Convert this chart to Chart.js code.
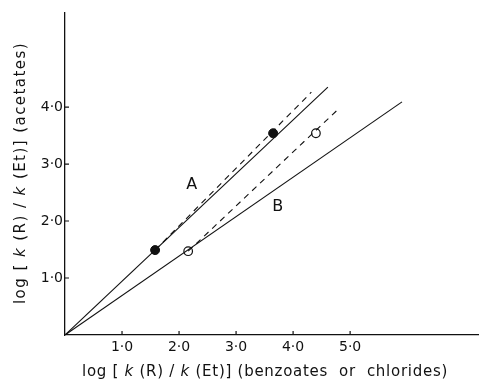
<!DOCTYPE html>
<html>
<head>
<meta charset="utf-8">
<script src="https://cdn.jsdelivr.net/npm/chart.js@4.4.1/dist/chart.umd.min.js"></script>
<style>
  body { margin: 0; background: #fff; }
  canvas { display: block; }
</style>
</head>
<body>
<canvas id="myChart" width="479" height="383"></canvas>
<script>
// values
const xTicks = [1, 2, 3, 4, 5]
const yTicks = [1, 2, 3, 4]
const lineA = [{x: 0, y: 0}, {x: 4.61, y: 4.35}]
const lineB = [{x: 0, y: 0}, {x: 5.91, y: 4.09}]
const dashA = [{x: 1.58, y: 1.49}, {x: 4.32, y: 4.26}]
const dashB = [{x: 2.16, y: 1.47}, {x: 4.79, y: 3.96}]
const filledPts = [{x: 1.58, y: 1.49}, {x: 3.65, y: 3.54}]
const openPts = [{x: 2.16, y: 1.47}, {x: 4.40, y: 3.54}]
const curveLabels = [{text: 'A', x: 2.23, y: 2.63}, {text: 'B', x: 3.74, y: 2.25}]

const FONT = '"DejaVu Sans", "Liberation Sans", sans-serif'

const fmt = v => v.toFixed(1).replace('.', '\u00b7')

// title pieces: [text, italic?]
const xTitle = [['log [ ', false], ['k', true], [' (R) / ', false], ['k', true], [' (Et)] (benzoates  or  chlorides)', false]]
const yTitle = [['log [ ', false], ['k', true], [' (R) / ', false], ['k', true], [' (Et)] (acetates)', false]]

// draw the pieces centred on 0,0, spread to the wanted width
function drawPieces(ctx, pieces, size, target) {
  let total = 0, chars = 0
  pieces.forEach(p => {
    ctx.font = (p[1] ? 'italic ' : '') + size + 'px ' + FONT
    total += ctx.measureText(p[0]).width
    chars += p[0].length
  })
  const gap = Math.max(0, (target - total) / chars)
  let x = -target / 2
  pieces.forEach(p => {
    ctx.font = (p[1] ? 'italic ' : '') + size + 'px ' + FONT
    for (const ch of p[0]) {
      ctx.fillText(ch, x, 0)
      x += ctx.measureText(ch).width + gap
    }
  })
}

const extras = {
  id: 'extras',
  afterDraw(chart) {
    const ctx = chart.ctx
    const xs = chart.scales.x, ys = chart.scales.y
    const x0 = xs.getPixelForValue(0), y0 = ys.getPixelForValue(0)
    ctx.save()
    ctx.strokeStyle = '#111'
    ctx.lineWidth = 1.2
    ctx.beginPath()
    xTicks.forEach(v => {
      const px = xs.getPixelForValue(v)
      ctx.moveTo(px, y0); ctx.lineTo(px, y0 - 4)
    })
    yTicks.forEach(v => {
      const py = ys.getPixelForValue(v)
      ctx.moveTo(x0, py); ctx.lineTo(x0 + 4, py)
    })
    ctx.stroke()

    ctx.fillStyle = '#111'
    ctx.textBaseline = 'middle'
    ctx.textAlign = 'left'
    ctx.font = '16px ' + FONT
    curveLabels.forEach(l => {
      ctx.fillText(l.text, xs.getPixelForValue(l.x) - 6, ys.getPixelForValue(l.y))
    })

    ctx.save()
    ctx.translate(265, 372)
    drawPieces(ctx, xTitle, 15, 366)
    ctx.restore()

    ctx.save()
    ctx.translate(21, 173)
    ctx.rotate(-Math.PI / 2)
    drawPieces(ctx, yTitle, 15, 262)
    ctx.restore()
    ctx.restore()
  }
}

const lineStyle = {borderColor: '#111', borderWidth: 1.1, pointRadius: 0, showLine: true, fill: false}

new Chart('myChart', {
  type: 'scatter',
  data: {
    datasets: [
      {...lineStyle, data: lineA},
      {...lineStyle, data: lineB},
      {...lineStyle, data: dashA, borderDash: [6, 5]},
      {...lineStyle, data: dashB, borderDash: [6, 5]},
      {data: filledPts, pointRadius: 4.5, backgroundColor: '#111', borderColor: '#111', showLine: false},
      {data: openPts, pointRadius: 4.3, backgroundColor: '#fff', borderColor: '#111', borderWidth: 1.2, showLine: false}
    ]
  },
  options: {
    responsive: false,
    animation: false,
    layout: {autoPadding: false, padding: {top: 13, right: 0, left: 0, bottom: 0}},
    plugins: {legend: {display: false}, tooltip: {enabled: false}},
    scales: {
      x: {
        type: 'linear', min: 0, max: 7.26,
        afterBuildTicks: s => { s.ticks = xTicks.map(v => ({value: v})) },
        afterFit: s => { s.height = 48; s.paddingLeft = 0; s.paddingRight = 0 },
        grid: {display: false, drawTicks: false},
        border: {display: true, color: '#111', width: 1.3},
        ticks: {color: '#111', padding: 4, font: {family: FONT, size: 14}, maxRotation: 0, callback: v => fmt(v)}
      },
      y: {
        type: 'linear', min: 0, max: 5.65,
        afterBuildTicks: s => { s.ticks = yTicks.map(v => ({value: v})) },
        afterFit: s => { s.width = 65; s.paddingTop = 0; s.paddingBottom = 0 },
        grid: {display: false, drawTicks: false},
        border: {display: true, color: '#111', width: 1.3},
        ticks: {color: '#111', padding: 2, font: {family: FONT, size: 14}, callback: v => fmt(v)}
      }
    }
  },
  plugins: [extras]
})
</script>
</body>
</html>
